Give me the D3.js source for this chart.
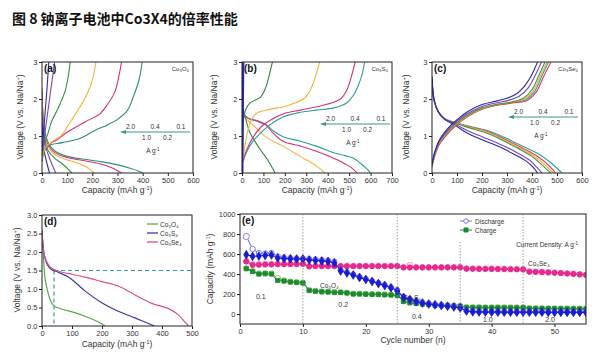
<!DOCTYPE html>
<html><head><meta charset="utf-8">
<script src="https://cdn.jsdelivr.net/npm/d3@7"></script>
<style>body{margin:0;background:#fff} svg{display:block} text{font-family:"Liberation Sans",Arial,sans-serif}</style>
</head><body><svg id="c" width="600" height="359"></svg>
<script>
// ---------- DATA ----------
const rateLabelsTop = ["2.0", "0.4", "0.1"];
const rateLabelsBottom = ["1.0", "0.2"];
const voltTicks = [0, 1, 2, 3];
const capTicksA = [0, 100, 200, 300, 400, 500, 600];
const capTicksB = [0, 100, 200, 300, 400, 500, 600, 700];
const capTicksD = [0, 100, 200, 300, 400, 500];
const voltTicksD = [0, 0.5, 1.0, 1.5, 2.0, 2.5, 3.0];
const cycleTicks = [0, 10, 20, 30, 40, 50];
const capTicksE = [0, 200, 400, 600, 800, 1000];

// (a) Co3O4 : charge / discharge, order 0.1,0.2,0.4,1.0,2.0,(blue)
const aCharge = [
  [[0,0.3],[10,0.6],[30,0.75],[80,0.82],[150,0.93],[210,1.15],[260,1.3],[300,1.45],[340,1.7],[365,2.1],[385,2.5],[398,3.0]],
  [[0,0.35],[10,0.62],[30,0.78],[60,0.9],[104,1.12],[171,1.38],[230,1.6],[260,1.85],[290,2.2],[305,2.6],[316,3.0]],
  [[0,0.4],[15,0.7],[40,0.85],[78,1.02],[105,1.3],[131,1.57],[171,2.02],[195,2.4],[208,2.75],[214,3.0]],
  [[0,0.45],[10,0.8],[25,1.1],[38,1.39],[64,1.75],[91,2.2],[104,2.6],[112,3.0]],
  [[0,0.5],[8,0.9],[18,1.4],[30,2.0],[40,2.5],[50,3.0]],
  [[0,0.6],[5,1.0],[12,1.6],[20,2.3],[27,3.0]]
];
const aDischarge = [
  [[0,2.2],[4,1.6],[12,1.1],[25,0.82],[50,0.6],[100,0.45],[170,0.37],[240,0.3],[300,0.22],[350,0.13],[385,0.05],[400,0]],
  [[0,2.3],[4,1.5],[12,1.0],[25,0.75],[50,0.55],[100,0.42],[170,0.33],[230,0.25],[275,0.15],[300,0.06],[315,0]],
  [[0,2.0],[4,1.4],[12,0.95],[25,0.7],[50,0.5],[90,0.38],[140,0.27],[180,0.15],[200,0.05],[208,0]],
  [[0,1.7],[4,1.3],[12,0.9],[25,0.6],[50,0.4],[80,0.25],[105,0.1],[118,0]],
  [[0,1.5],[5,1.1],[15,0.7],[30,0.4],[45,0.15],[55,0]],
  [[0,1.3],[4,0.9],[10,0.55],[20,0.25],[30,0]]
];
// (b) Co3S4
const bCharge = [
  [[5,0.3],[20,0.55],[50,0.85],[90,1.1],[130,1.3],[194,1.52],[272,1.64],[350,1.7],[428,1.76],[490,1.9],[520,2.1],[545,2.4],[562,2.7],[572,3.0]],
  [[5,0.35],[20,0.6],[50,0.95],[90,1.25],[140,1.45],[194,1.6],[272,1.7],[350,1.79],[420,1.9],[460,2.0],[490,2.25],[510,2.6],[528,3.0]],
  [[5,0.4],[15,0.8],[30,1.2],[50,1.5],[70,1.62],[130,1.72],[194,1.79],[250,1.9],[288,2.0],[315,2.2],[334,2.45],[350,2.75],[362,3.0]],
  [[3,0.4],[5,0.9],[8,1.5],[20,1.75],[39,1.9],[86,2.05],[110,2.3],[125,2.6],[142,3.0]],
  [[0,0.1],[3,1.5],[7,3.0]],
  [[0,0],[2,1],[4,2],[6,3.0]]
];
const bDischarge = [
  [[0,1.85],[8,1.6],[30,1.48],[70,1.42],[110,1.32],[150,1.12],[194,0.97],[272,0.86],[350,0.72],[428,0.55],[480,0.47],[520,0.4],[555,0.25],[585,0.1],[600,0]],
  [[0,1.85],[8,1.6],[30,1.47],[70,1.4],[110,1.3],[150,1.05],[194,0.85],[272,0.73],[350,0.58],[428,0.4],[490,0.22],[520,0.1],[537,0]],
  [[0,1.8],[8,1.55],[30,1.4],[60,1.25],[117,0.95],[194,0.72],[272,0.45],[350,0.18],[375,0.06],[387,0]],
  [[0,1.9],[6,1.7],[20,1.4],[39,1.07],[86,0.63],[120,0.35],[145,0.1],[155,0]],
  [[0,2.4],[2,1.0],[4,0]],
  [[0,2.2],[2,1.0],[3,0]]
];
// (c) Co3Se4 order: teal, magenta, orange, green, purple, blue
const cCharge = [
  [[0,0.18],[10,0.46],[30,0.8],[60,1.06],[90,1.27],[140,1.53],[200,1.73],[260,1.84],[320,1.9],[375,1.98],[410,2.2],[438,2.6],[466,3.0]],
  [[0,0.16],[10,0.44],[30,0.78],[60,1.04],[90,1.25],[140,1.51],[200,1.72],[260,1.83],[320,1.89],[380,1.96],[418,2.2],[446,2.6],[476,3.0]],
  [[0,0.2],[10,0.48],[30,0.83],[60,1.08],[90,1.28],[140,1.54],[200,1.74],[260,1.85],[320,1.91],[370,2.0],[405,2.22],[432,2.6],[460,3.0]],
  [[0,0.2],[10,0.5],[30,0.85],[60,1.1],[90,1.3],[140,1.56],[200,1.76],[260,1.86],[320,1.92],[365,2.02],[400,2.25],[425,2.6],[452,3.0]],
  [[0,0.22],[10,0.52],[30,0.87],[60,1.14],[90,1.34],[140,1.6],[200,1.8],[260,1.9],[310,1.97],[350,2.08],[385,2.3],[410,2.6],[438,3.0]],
  [[0,0.25],[10,0.55],[30,0.9],[60,1.18],[90,1.38],[140,1.65],[200,1.85],[260,1.95],[300,2.02],[340,2.15],[370,2.35],[395,2.6],[422,3.0]]
];
const cDischarge = [
  [[0,2.5],[8,1.95],[25,1.65],[50,1.47],[90,1.37],[150,1.26],[230,1.13],[300,0.93],[370,0.7],[430,0.5],[480,0.25],[520,0]],
  [[0,2.5],[8,1.96],[25,1.66],[50,1.47],[90,1.36],[150,1.25],[220,1.13],[290,0.92],[360,0.68],[420,0.46],[465,0.22],[495,0]],
  [[0,2.55],[8,1.97],[25,1.67],[50,1.48],[90,1.37],[150,1.24],[215,1.12],[280,0.92],[350,0.68],[410,0.45],[455,0.2],[485,0]],
  [[0,2.55],[8,1.98],[25,1.66],[50,1.47],[90,1.36],[150,1.22],[210,1.1],[272,0.92],[340,0.68],[400,0.45],[440,0.22],[475,0]],
  [[0,2.6],[8,2.0],[25,1.66],[50,1.46],[90,1.33],[140,1.15],[200,0.98],[272,0.78],[340,0.55],[390,0.35],[420,0.15],[440,0]],
  [[0,2.6],[8,2.0],[25,1.65],[50,1.45],[90,1.3],[140,1.08],[200,0.9],[272,0.7],[330,0.5],[377,0.32],[405,0.15],[422,0]]
];
// (d) first discharge comparison
const dNames = ["Co₃O₄", "Co₃S₄", "Co₃Se₄"];
const dO4 = [[0,2.6],[3,2.1],[6,1.7],[10,1.3],[17,1.0],[27,0.72],[39,0.55],[65,0.46],[109,0.36],[154,0.23],[190,0.1],[210,0]];
const dS4 = [[0,2.6],[3,2.2],[8,1.9],[18,1.65],[31,1.53],[55,1.45],[87,1.33],[115,1.15],[143,0.95],[199,0.63],[254,0.4],[310,0.22],[345,0.1],[375,0]];
const dSe4 = [[0,2.6],[3,2.2],[8,1.9],[18,1.7],[31,1.57],[55,1.48],[87,1.42],[143,1.32],[199,1.2],[254,1.08],[310,0.84],[366,0.61],[422,0.47],[455,0.3],[475,0.12],[488,0]];
const dGuideV = 1.5, dGuideCap = 40;
// (e) rate performance, cycles 1..55
const cycles = d3.range(1, 56);
const se4Charge = [525,490,492,495,495,497,497,498,498,500, 475,478,478,478,478,478,478,478,478,478,478,478,478,478,478, 465,465,465,465,465,465,465,465,465,465, 452,452,451,450,450,449,448,447,446,445, 422,420,418,415,412,408,404,400,395,390];
const se4Discharge = [530,500,500,502,502,503,503,503,504,505, 482,483,483,483,483,483,483,483,483,483,483,483,483,483,483, 470,490,470,470,470,470,470,470,470,470, 458,457,456,455,455,454,453,452,451,450, 428,425,423,420,417,413,409,405,400,395];
const s4Charge = [593,577,580,585,590,560,555,552,550,550, 540,535,530,525,510,430,410,390,365,345,325,305,285,262,230, 165,145,125,110,100,92,85,78,70,60, 30,22,20,20,19,19,18,18,18,18, 18,18,18,17,17,17,17,17,17,17];
const s4Discharge = [775,650,610,605,610,575,565,560,555,555, 550,545,540,535,525,440,418,396,372,350,330,310,290,268,240, 175,150,130,115,104,96,88,82,74,64, 34,25,23,22,21,21,20,20,20,20, 20,20,20,19,19,19,19,19,19,19];
const o4Charge = [453,425,400,403,400,335,330,320,315,310, 235,228,222,220,215,215,210,200,200,198,196,195,192,190,185, 125,112,105,100,95,88,85,82,80,78, 65,64,64,63,63,63,62,62,62,62, 55,54,54,53,53,52,52,51,51,50];
const o4Discharge = [458,430,405,408,405,360,335,325,320,315, 240,232,226,224,220,219,214,204,204,202,200,199,196,194,189, 130,116,109,104,99,92,89,86,84,82, 69,68,68,67,67,67,66,66,66,66, 59,58,58,57,57,56,56,55,55,54];
const eDividers = [10, 25, 35, 45];
const eRates = [["0.1",3.3,150],["0.2",16.4,70],["0.4",28.1,-50],["1.0",39.4,-80],["2.0",49.3,-80]];

// ---------- DRAW ----------
const svg = d3.select("#c");
const rateColors = ["#2b8f78", "#d8307a", "#f2b33e", "#2f9340", "#7b44c6", "#2a2ab2"];
const cColors = ["#2aa09a", "#e03a60", "#f2a83a", "#3a9a3a", "#7a44c6", "#2a2aa8"];

svg.append("text").attr("x", 12).attr("y", 24).attr("font-size", 14).attr("font-weight", "bold")
  .style("font-family", '"Noto Sans CJK SC", sans-serif').attr("fill", "#111")
  .text("图 8 钠离子电池中Co3X4的倍率性能");

let clipId = 0;
function panel(box, xd, yd, xt, yt, yfmt) {
  const [x0, x1, y0, y1] = box;
  const x = d3.scaleLinear().domain(xd).range([x0, x1]);
  const y = d3.scaleLinear().domain(yd).range([y1, y0]);
  const g = svg.append("g");
  const id = "clip" + (clipId++);
  svg.append("clipPath").attr("id", id).append("rect").attr("x", x0).attr("y", y0).attr("width", x1 - x0).attr("height", y1 - y0);
  const plot = g.append("g").attr("clip-path", `url(#${id})`);
  const ax = g.append("g").attr("transform", `translate(0,${y1})`)
    .call(d3.axisBottom(x).tickValues(xt).tickSize(3).tickPadding(1.5).tickFormat(d3.format("d")));
  const ay = g.append("g").attr("transform", `translate(${x0},0)`)
    .call(d3.axisLeft(y).tickValues(yt).tickSize(3).tickPadding(1.5).tickFormat(yfmt || d3.format("d")));
  [ax, ay].forEach(a => { a.selectAll("text").attr("font-size", 7.5).attr("fill", "#333");
    a.select(".domain").remove(); a.selectAll("line").attr("stroke", "#222"); });
  g.append("rect").attr("x", x0).attr("y", y0).attr("width", x1 - x0).attr("height", y1 - y0)
    .attr("fill", "none").attr("stroke", "#222").attr("stroke-width", 1);
  return {x, y, g, plot, box};
}
function yLabel(g, xpos, ycen, parts) {
  const t = g.append("text").attr("transform", `translate(${xpos},${ycen}) rotate(-90)`)
    .attr("text-anchor", "middle").attr("font-size", 8.5).attr("fill", "#333");
  parts.forEach(p => { const s = t.append("tspan").text(p[0]); if (p[1]) s.attr("baseline-shift", "super").attr("font-size", 5.5); });
}
function xLabel(g, xcen, ypos, parts) {
  const t = g.append("text").attr("x", xcen).attr("y", ypos)
    .attr("text-anchor", "middle").attr("font-size", 8.5).attr("fill", "#333");
  parts.forEach(p => { const s = t.append("tspan").text(p[0]); if (p[1]) s.attr("baseline-shift", "super").attr("font-size", 5.5); });
}
const voltParts = [["Voltage (V vs. Na/Na"], ["+", 1], [")"]];
const capParts = [["Capacity (mAh g"], ["-1", 1], [")"]];
const curve = d3.curveCatmullRom.alpha(0.5);
function drawCurves(P, sets, colors, w) {
  const line = d3.line().x(d => P.x(d[0])).y(d => P.y(d[1])).curve(curve);
  sets.forEach(set => set.forEach((s, i) => {
    P.plot.append("path").attr("d", line(s)).attr("fill", "none").attr("stroke", colors[i]).attr("stroke-width", w || 1.1);
  }));
}
function panelLabel(P, txt, name) {
  const [x0, x1, y0] = P.box;
  P.g.append("text").attr("x", x0 + 2).attr("y", y0 + 10).attr("font-size", 10).attr("font-weight", "bold").attr("fill", "#111").text(txt);
  if (name) P.g.append("text").attr("x", x1 - 4).attr("y", y0 + 9).attr("text-anchor", "end").attr("font-size", 6).attr("fill", "#333").text(name);
}
function rateLegend(g, xa, xb, yl) {
  const dx = (xb - xa);
  g.append("line").attr("x1", xa + 4).attr("x2", xb).attr("y1", yl).attr("y2", yl).attr("stroke", "#3a9a8a").attr("stroke-width", 1.1);
  g.append("path").attr("d", `M${xa},${yl} l6,-2 l0,4 z`).attr("fill", "#3a9a8a");
  const top = [0.15, 0.50, 0.87], bot = [0.38, 0.68];
  rateLabelsTop.forEach((t, i) => g.append("text").attr("x", xa + dx * top[i]).attr("y", yl - 3).attr("text-anchor", "middle").attr("font-size", 6.5).attr("fill", "#333").text(t));
  rateLabelsBottom.forEach((t, i) => g.append("text").attr("x", xa + dx * bot[i]).attr("y", yl + 8).attr("text-anchor", "middle").attr("font-size", 6.5).attr("fill", "#333").text(t));
  const u = g.append("text").attr("x", xa + dx * 0.47).attr("y", yl + 21).attr("text-anchor", "middle").attr("font-size", 6.5).attr("fill", "#333");
  u.append("tspan").text("A g"); u.append("tspan").text("-1").attr("baseline-shift", "super").attr("font-size", 4.5);
}

// (a)
const A = panel([42, 193, 62, 173], [0, 600], [0, 3], capTicksA, voltTicks);
drawCurves(A, [aDischarge, aCharge], rateColors);
panelLabel(A, "(a)", "Co₃O₄");
rateLegend(A.g, 120, 190, 132);
yLabel(A.g, 23, 117, voltParts); xLabel(A.g, 117, 193, capParts);

// (b)
const B = panel([242, 392, 62, 173], [0, 700], [0, 3], capTicksB, voltTicks);
drawCurves(B, [bDischarge, bCharge], ["#2aa09a", "#d8307a", "#f2b33e", "#2f8a40", "#7b44c6", "#2222c0"], 1.1);
B.plot.append("path").attr("d", d3.line().x(d => B.x(d[0])).y(d => B.y(d[1]))(bCharge[5])).attr("stroke", "#2222c0").attr("stroke-width", 2.2).attr("fill", "none");
panelLabel(B, "(b)", "Co₃S₄");
rateLegend(B.g, 320, 390, 124);
yLabel(B.g, 217, 117, voltParts); xLabel(B.g, 317, 193, capParts);

// (c)
const Cp = panel([432, 582, 62, 173], [0, 600], [0, 3], capTicksA, voltTicks);
drawCurves(Cp, [cDischarge, cCharge], cColors, 1.1);
panelLabel(Cp, "(c)", "Co₃Se₄");
rateLegend(Cp.g, 508, 578, 117);
yLabel(Cp.g, 409, 117, voltParts); xLabel(Cp.g, 507, 193, capParts);

// (d)
const D = panel([42, 192, 215, 326], [0, 500], [0, 3], capTicksD, voltTicksD, d3.format(".1f"));
const dLine = d3.line().x(d => D.x(d[0])).y(d => D.y(d[1])).curve(curve);
const dColors = ["#5aa84a", "#3b3ba8", "#d9508c"];
D.plot.append("path").attr("d", `M${D.x(dGuideCap)},${D.y(dGuideV)}H${D.x(500)}M${D.x(dGuideCap)},${D.y(dGuideV)}V${D.y(0)}`)
  .attr("stroke", "#3a9a9a").attr("stroke-width", 1.2).attr("stroke-dasharray", "4,3").attr("fill", "none");
[dO4, dS4, dSe4].forEach((s, i) => D.plot.append("path").attr("d", dLine(s)).attr("fill", "none").attr("stroke", dColors[i]).attr("stroke-width", 1.2));
panelLabel(D, "(d)");
dNames.forEach((n, i) => {
  const yy = 224 + i * 9;
  D.g.append("line").attr("x1", 147).attr("x2", 158).attr("y1", yy).attr("y2", yy).attr("stroke", dColors[i]).attr("stroke-width", 1.3);
  D.g.append("text").attr("x", 160).attr("y", yy + 2.5).attr("font-size", 6.5).attr("fill", "#333").text(n);
});
yLabel(D.g, 20, 270, voltParts); xLabel(D.g, 117, 347, capParts);

// (e)
const E = panel([240, 586, 214, 324], [0, 55], [-100, 1000], cycleTicks, capTicksE);
eDividers.forEach(c => {
  const top = c === 35 ? E.y(720) : E.y(1000);
  E.g.append("line").attr("x1", E.x(c)).attr("x2", E.x(c)).attr("y1", top).attr("y2", E.y(-100))
    .attr("stroke", "#888").attr("stroke-width", 0.8).attr("stroke-dasharray", "1.5,1.5");
});
function series(vals, color, filled, shape, fillCol) {
  const pts = cycles.map((c, i) => [c, vals[i]]);
  E.plot.append("path").attr("d", d3.line().x(d => E.x(d[0])).y(d => E.y(d[1]))(pts)).attr("fill", "none").attr("stroke", color).attr("stroke-width", 1);
  const sym = d3.symbol().type(shape).size(shape === d3.symbolSquare ? 18 : 22);
  E.plot.selectAll(null).data(pts).join("path").attr("transform", d => `translate(${E.x(d[0])},${E.y(d[1])})`)
    .attr("d", sym).attr("fill", filled ? color : (fillCol || "#fff")).attr("stroke", color).attr("stroke-width", 0.8);
}
series(o4Discharge, "#68b85a", false, d3.symbolCircle);
series(o4Charge, "#1d8a2c", true, d3.symbolSquare);
series(se4Discharge, "#f07ac0", false, d3.symbolCircle);
series(se4Charge, "#e8288a", true, d3.symbolCircle);
series(s4Discharge, "#6060e0", false, d3.symbolCircle);
series(s4Charge, "#1a1ad0", true, d3.symbolDiamond);
E.plot.append("path").attr("transform", `translate(${E.x(1)},${E.y(s4Discharge[0])})`).attr("d", d3.symbol().type(d3.symbolCircle).size(30)).attr("fill", "#fff").attr("stroke", "#a070d0").attr("stroke-width", 0.9);
panelLabel(E, "(e)");
// legend
[["Discharge", "#8a70d0", false, d3.symbolCircle], ["Charge", "#1d8a2c", true, d3.symbolSquare]].forEach((l, i) => {
  const yy = 221 + i * 9;
  E.g.append("line").attr("x1", 460).attr("x2", 472).attr("y1", yy).attr("y2", yy).attr("stroke", l[1]).attr("stroke-width", 1);
  E.g.append("path").attr("transform", `translate(466,${yy})`).attr("d", d3.symbol().type(l[3]).size(16)).attr("fill", l[2] ? l[1] : "#fff").attr("stroke", l[1]);
  E.g.append("text").attr("x", 475).attr("y", yy + 2.5).attr("font-size", 6.5).attr("fill", "#333").text(l[0]);
});
const cd = E.g.append("text").attr("x", 578).attr("y", 247).attr("text-anchor", "end").attr("font-size", 6.5).attr("fill", "#333");
cd.append("tspan").text("Current Density: A g"); cd.append("tspan").text("-1").attr("baseline-shift", "super").attr("font-size", 4.5);
E.g.append("text").attr("x", 528).attr("y", 266).attr("font-size", 6.5).attr("fill", "#333").text("Co₃Se₄");
E.g.append("text").attr("x", 320).attr("y", 288).attr("font-size", 6.5).attr("fill", "#333").text("Co₃O₄");
E.g.append("text").attr("x", 403).attr("y", 300).attr("font-size", 6.5).attr("fill", "#333").text("Co₃S₄");
eRates.forEach(r => E.g.append("text").attr("x", E.x(r[1])).attr("y", E.y(r[2])).attr("text-anchor", "middle").attr("font-size", 7).attr("fill", "#333").text(r[0]));
yLabel(E.g, 213, 269, capParts); xLabel(E.g, 413, 343, [["Cycle number (n)"]]);
</script></body></html>
